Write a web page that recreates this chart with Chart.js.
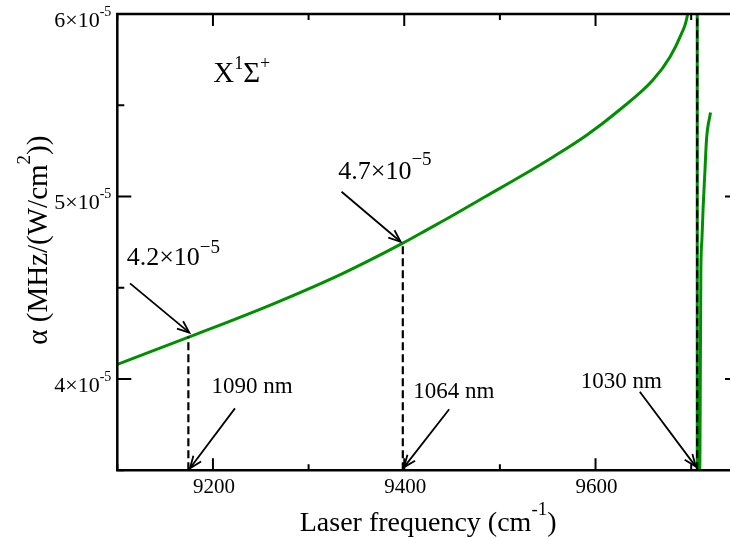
<!DOCTYPE html>
<html>
<head>
<meta charset="utf-8">
<script src="https://cdn.jsdelivr.net/npm/chart.js@4.4.1/dist/chart.umd.min.js"></script>
<style>
  html, body { margin: 0; padding: 0; background: #fff; overflow: hidden; }
  #wrap { width: 730px; height: 539px; overflow: hidden; }
  canvas { display: block; }
</style>
</head>
<body>
<div id="wrap"><canvas id="chart" width="741" height="539"></canvas></div>
<script>
// laser frequency (cm^-1) and polarizability alpha (units of 1e-5 MHz/(W/cm^2))
const freq = [9100, 9176, 9260, 9336, 9397, 9427, 9446, 9486, 9521, 9556, 9591, 9625, 9660, 9678, 9690, 9695,
              9700, 9703, 9705, 9706.2, 9706.6, 9708.4, 9709.2, 9710.1, 9711.2, 9712.5, 9714.3, 9716, 9720.2];
const alpha = [4.08, 4.232, 4.405, 4.579, 4.74, 4.827, 4.882, 5.003, 5.108, 5.218, 5.337, 5.474, 5.638, 5.766, 5.894, 5.967,
               6.15, 6.5, 7.7, 19, -19, 2.5, 3.6, 4.58, 4.76, 4.94, 5.13, 5.31, 5.46];

// marked laser wavelengths (nm), their frequencies and the alpha where the dashed line stops
const markerNm = [1090, 1064, 1030];
const markerFreq = [9174.3, 9398.5, 9706.3];
const markerAlpha = [4.232, 4.74, 6.0];
const valueLabels = ['4.2', '4.7'];

// axis ticks
const xMajor = [9200, 9400, 9600];
const xMinor = [9100, 9300, 9500, 9700];
const yMajor = [4, 5, 6];
const yMinor = [3.5, 4.5, 5.5];
const xRange = [9100, 9750];
const yRange = [3.5, 6.0];

const FONT = '"Liberation Serif", "Times New Roman", serif';
const GREEN = '#008f00';

// annotation placement, in data units
const notes = [
  { parts: [{ t: valueLabels[0] + '×10', s: 26 }, { t: '−5', s: 19, r: 12 }], at: [9109.8, 4.625],
    arrow: [[9113.3, 4.524], [9175.3, 4.254]] },
  { parts: [{ t: valueLabels[1] + '×10', s: 26 }, { t: '−5', s: 19, r: 14 }], at: [9331, 5.094],
    arrow: [[9334.5, 5.026], [9396.2, 4.752]] },
  { parts: [{ t: markerNm[0] + ' nm', s: 23 }], at: [9198.5, 3.922],
    arrow: [[9223, 3.839], [9176, 3.511]] },
  { parts: [{ t: markerNm[1] + ' nm', s: 23 }], at: [9409.4, 3.896],
    arrow: [[9447, 3.834], [9399.6, 3.516]] },
  { parts: [{ t: markerNm[2] + ' nm', s: 23 }], at: [9584.6, 3.952],
    arrow: [[9646.3, 3.930], [9704.8, 3.520]] },
  { parts: [{ t: 'X', s: 29 }, { t: '1', s: 18, r: 13 }, { t: 'Σ', s: 29 }, { t: '+', s: 18, r: 13 }],
    at: [9200.3, 5.629] }
];

function richWidth(ctx, parts) {
  let w = 0;
  for (const p of parts) {
    ctx.font = p.s + 'px ' + FONT;
    w += ctx.measureText(p.t).width;
  }
  return w;
}

function drawRich(ctx, parts, x, y, align) {
  const w = richWidth(ctx, parts);
  let cx = align === 'center' ? x - w / 2 : align === 'right' ? x - w : x;
  ctx.textAlign = 'left';
  ctx.textBaseline = 'alphabetic';
  for (const p of parts) {
    ctx.font = p.s + 'px ' + FONT;
    ctx.fillText(p.t, cx, y - (p.r || 0));
    cx += ctx.measureText(p.t).width;
  }
}

function arrow(ctx, x0, y0, x1, y1) {
  ctx.beginPath();
  ctx.moveTo(x0, y0);
  ctx.lineTo(x1, y1);
  ctx.stroke();
  const ang = Math.atan2(y1 - y0, x1 - x0), L = 13, h = 0.38;
  ctx.beginPath();
  ctx.moveTo(x1 - L * Math.cos(ang - h), y1 - L * Math.sin(ang - h));
  ctx.lineTo(x1, y1);
  ctx.lineTo(x1 - L * Math.cos(ang + h), y1 - L * Math.sin(ang + h));
  ctx.stroke();
}

// frame, inward ticks, labels, titles and arrows
const framePlugin = {
  id: 'frame',
  afterDatasetsDraw(chart) {
    const { ctx, chartArea: a, scales: { x, y } } = chart;
    ctx.save();
    ctx.strokeStyle = '#000';
    ctx.fillStyle = '#000';
    ctx.lineCap = 'butt';

    // ticks
    ctx.lineWidth = 2;
    ctx.beginPath();
    const xt = (v, len) => {
      const px = x.getPixelForValue(v);
      ctx.moveTo(px, a.bottom); ctx.lineTo(px, a.bottom - len);
      ctx.moveTo(px, a.top); ctx.lineTo(px, a.top + len);
    };
    const yt = (v, len) => {
      const py = y.getPixelForValue(v);
      ctx.moveTo(a.left, py); ctx.lineTo(a.left + len, py);
      ctx.moveTo(a.right, py); ctx.lineTo(a.right - len, py);
    };
    xMajor.forEach(v => xt(v, 12));
    xMinor.forEach(v => xt(v, 6));
    yMajor.forEach(v => yt(v, 14));
    yMinor.forEach(v => yt(v, 7));
    ctx.stroke();

    // frame
    ctx.lineWidth = 2.5;
    ctx.strokeRect(a.left, a.top, a.right - a.left, a.bottom - a.top);

    // tick labels
    xMajor.forEach(v => {
      drawRich(ctx, [{ t: String(v), s: 21 }], x.getPixelForValue(v) + 1, a.bottom + 22.5, 'center');
    });
    yMajor.forEach(v => {
      drawRich(ctx, [{ t: v + '×10', s: 22 }, { t: '-5', s: 14, r: 11 }],
        a.left - 6, y.getPixelForValue(v) + 12.5, 'right');
    });

    // axis titles
    drawRich(ctx, [{ t: 'Laser frequency (cm', s: 28 }, { t: '-1', s: 19, r: 15.5 }, { t: ')', s: 28 }],
      (a.left + a.right) / 2, 530.7, 'center');
    ctx.save();
    ctx.translate(46.7, (a.top + a.bottom) / 2 - 2);
    ctx.rotate(-Math.PI / 2);
    drawRich(ctx, [{ t: 'α (MHz/(W/cm', s: 29 }, { t: '2', s: 19, r: 17 }, { t: '))', s: 29 }], 0, 0, 'center');
    ctx.restore();

    // annotations
    ctx.lineWidth = 1.8;
    notes.forEach(n => {
      drawRich(ctx, n.parts, x.getPixelForValue(n.at[0]), y.getPixelForValue(n.at[1]), 'left');
      if (n.arrow) {
        const [p0, p1] = n.arrow;
        arrow(ctx, x.getPixelForValue(p0[0]), y.getPixelForValue(p0[1]),
          x.getPixelForValue(p1[0]), y.getPixelForValue(p1[1]));
      }
    });
    ctx.restore();
  }
};

const curve = freq.map((f, i) => ({ x: f, y: alpha[i] }));
const markerSets = markerFreq.map((f, i) => ({
  data: [{ x: f, y: yRange[0] }, { x: f, y: markerAlpha[i] }],
  borderColor: '#000',
  borderWidth: 2.2,
  borderDash: [8, 4],
  pointRadius: 0,
  showLine: true,
  order: 0
}));

new Chart(document.getElementById('chart').getContext('2d'), {
  type: 'scatter',
  data: {
    datasets: [
      {
        data: curve,
        borderColor: GREEN,
        borderWidth: 3,
        pointRadius: 0,
        showLine: true,
        cubicInterpolationMode: 'monotone',
        order: 1
      },
      ...markerSets
    ]
  },
  options: {
    responsive: false,
    devicePixelRatio: 1,
    animation: false,
    layout: { padding: { left: 117.3, top: 14, right: 2, bottom: 68.75 } },
    plugins: { legend: { display: false }, tooltip: { enabled: false } },
    scales: {
      x: { type: 'linear', min: xRange[0], max: xRange[1], display: false },
      y: { type: 'linear', min: yRange[0], max: yRange[1], display: false }
    }
  },
  plugins: [framePlugin]
});
</script>
</body>
</html>
